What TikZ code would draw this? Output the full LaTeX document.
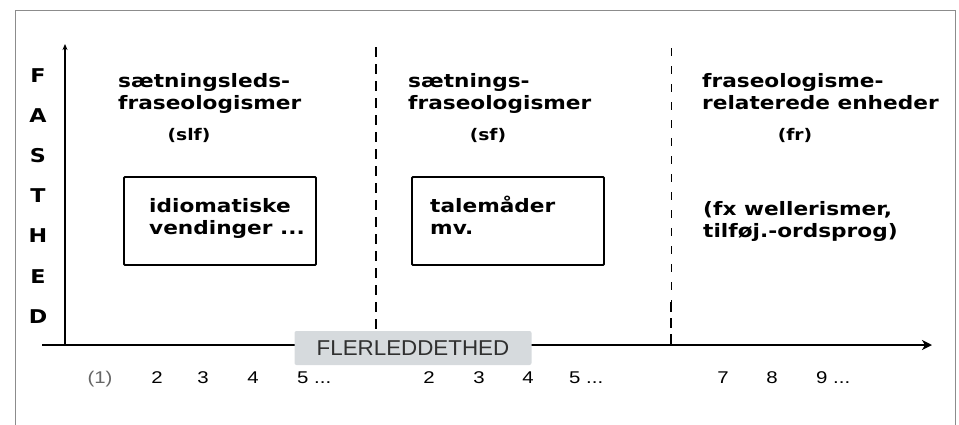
\documentclass[tikz,border=0pt]{standalone}
\usepackage{fontspec}
\setmainfont{DejaVu Sans}
\newfontfamily\headfont{DejaVu Sans Bold}[FakeStretch=1.17]
\newfontfamily\numfont{Liberation Sans}[FakeStretch=1.2]
\newfontfamily\labelfont{Liberation Sans}[FakeStretch=1.04]
\usetikzlibrary{positioning,arrows.meta}
\definecolor{framegray}{HTML}{8C8C8C}
\definecolor{labelgray}{HTML}{D6DADD}
\definecolor{labeltext}{HTML}{303030}

\begin{document}
\begin{tikzpicture}[x=1pt,y=-1pt,
		head/.style={font=\headfont\fontsize{18.5}{22}\selectfont,align=left,anchor=base west,inner sep=0pt},
		abbr/.style={font=\headfont\fontsize{16}{18}\selectfont,anchor=base,inner sep=0pt},
		fasthed/.style={font=\headfont\fontsize{19}{20}\selectfont,anchor=base,inner sep=0pt},
		catbox/.style={draw,line width=1.8pt,minimum width=192pt,minimum height=88pt,rounded corners=1pt},
		tick/.style={font=\numfont\fontsize{17}{18}\selectfont,text=black,anchor=base,inner sep=0pt}]
	\useasboundingbox (0,0) rectangle (959,424);
	\draw[framegray] (15,10) rectangle (955,440);
	% axes
	\coordinate (o) at (65,345);
	\coordinate (ytop) at (65,44);
	\coordinate (xleft) at (42,345);
	\coordinate (xright) at (932,345);
	\draw[line width=1.2pt,-{Stealth[length=6pt,width=5pt]}] (o) -- (ytop);
	\draw[line width=1.8pt,-{Stealth[length=10pt,width=10pt,inset=3pt]}] (xleft) -- (xright);
	\foreach \l [count=\i] in {F,A,S,T,H,E,D}
		\node[fasthed] (fast\i) at (38,{82+40.2*(\i-1)}) {\l};
	% borders between the three groups
	\coordinate (sepA) at (376,47);
	\coordinate (sepAb) at (376,345);
	\coordinate (sepB) at (671,48);
	\coordinate (sepBm) at (671,302);
	\coordinate (sepBb) at (671,345);
	\draw[line width=2.2pt,dash pattern=on 10pt off 7pt] (sepA) -- (sepAb);
	\draw[line width=0.8pt,dash pattern=on 8pt off 10pt] (sepB) -- (sepBm);
	\draw[line width=2.4pt,dash pattern=on 10pt off 6pt] (sepBm) -- (sepBb);
	% group titles (base = last line)
	\node[head] (slfhead) at (118,109) {sætningsleds-\\fraseologismer};
	\node[abbr] (slf) at (189,140) {(slf)};
	\node[head] (sfhead) at (408,109) {sætnings-\\fraseologismer};
	\node[abbr] (sf) at (488,140) {(sf)};
	\node[head] (frhead) at (702,109) {fraseologisme-\\relaterede enheder};
	\node[abbr] (fr) at (795,140) {(fr)};
	% examples
	\node[catbox] (idiom) at (220,221) {};
	\node[head] (idiomtxt) at (149,234) {idiomatiske\\vendinger ...};
	\node[catbox] (tale) at (508,221) {};
	\node[head] (taletxt) at (430,234) {talemåder\\mv.};
	\node[head] (fxtxt) at (703,237) {(fx wellerismer,\\tilføj.-ordsprog)};
	% count of parts
	\node[fill=labelgray,rounded corners=2pt,minimum width=237pt,minimum height=34pt,inner sep=0pt,
		font=\labelfont\fontsize{21.5}{22}\selectfont,text=labeltext] (flerled) at (413,348) {FLERLEDDETHED};
	\node[tick,text=black!60] (n1) at (100,383) {(1)};
	\foreach \n/\x in {2/157,3/203,4/253,2/429,3/479,4/528,7/723,8/772}
		\node[tick] (n\x) at (\x,383) {\n};
	\node[tick,anchor=base west] (n5a) at (297,383) {5 ...};
	\node[tick,anchor=base west] (n5b) at (569,383) {5 ...};
	\node[tick,anchor=base west] (n9) at (816,383) {9 ...};
\end{tikzpicture}
\end{document}
